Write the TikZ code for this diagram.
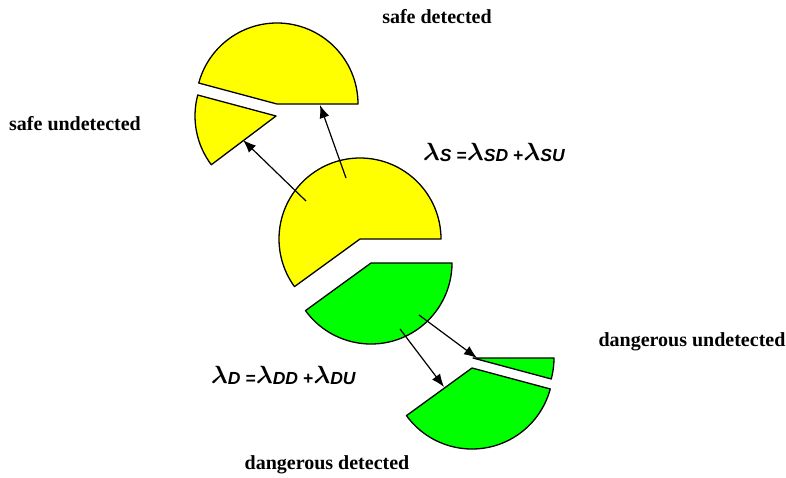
\documentclass[tikz,border=0pt]{standalone}
\usepackage{fontspec}
\setmainfont{Liberation Serif}
\newfontfamily\subfont{Liberation Sans}
\usetikzlibrary{arrows.meta}
\definecolor{pieyellow}{RGB}{255,255,0}
\definecolor{piegreen}{RGB}{0,255,0}
\newcommand{\lamsub}[1]{{\fontsize{34}{34}\selectfont\boldmath$\lambda$}\kern0pt\raisebox{-1.5pt}{\fontsize{17.5}{17.5}\selectfont\subfont\bfseries\itshape #1}\kern0.5pt}
\tikzset{
  ysec/.style={fill=pieyellow, draw=black, line width=1.3pt, line join=round},
  gsec/.style={fill=piegreen, draw=black, line width=1.3pt, line join=round},
  arr/.style={draw=black, line width=1.2pt, -{Latex[length=13pt,width=10pt]}},
  lbl/.style={font=\fontsize{20}{20}\selectfont\bfseries, inner sep=0pt},
  frm/.style={inner sep=0pt, anchor=base west}
}
\begin{document}
\begin{tikzpicture}[x=1pt,y=1pt]
\useasboundingbox (0,0) rectangle (786,-477);
% sectors
\coordinate (cY) at (360,-239);
\coordinate (cG) at (371,-263);
\coordinate (cSD) at (277,-104);
\coordinate (cSU) at (276,-116);
\coordinate (cDD) at (472,-368);
\coordinate (cDU) at (473,-358);
\draw[ysec] (cY) -- ++(0:81) arc[start angle=0, end angle=216, radius=81] -- cycle;
\draw[gsec] (cG) -- ++(216:81) arc[start angle=216, end angle=360, radius=81] -- cycle;
\draw[ysec] (cSD) -- ++(0:81) arc[start angle=0, end angle=165, radius=81] -- cycle;
\draw[ysec] (cSU) -- ++(165:81) arc[start angle=165, end angle=217, radius=81] -- cycle;
\draw[gsec] (cDD) -- ++(216:81) arc[start angle=216, end angle=345, radius=81] -- cycle;
\draw[gsec] (cDU) -- ++(345:81) arc[start angle=345, end angle=360, radius=81] -- cycle;
% arrows
\coordinate (a1s) at (346,-178);
\coordinate (a1e) at (320,-105);
\coordinate (a2s) at (306,-201);
\coordinate (a2e) at (243,-140);
\coordinate (a3s) at (400,-329);
\coordinate (a3e) at (444,-387);
\coordinate (a4s) at (419,-315);
\coordinate (a4e) at (477,-358);
\draw[arr] (a1s) -- (a1e);
\draw[arr] (a2s) -- (a2e);
\draw[arr] (a3s) -- (a3e);
\draw[arr] (a4s) -- (a4e);
% labels
\node[lbl] (sd) at (437,-17) {safe detected};
\node[lbl] (su) at (75,-124) {safe undetected};
\node[lbl] (du) at (692,-342) {dangerous undetected};
\node[lbl] (dd) at (327,-465) {dangerous detected};
\node[frm] (fs) at (423,-160) {\lamsub{S =}\lamsub{SD +}\lamsub{SU}};
\node[frm] (fd) at (211,-383) {\lamsub{D =}\lamsub{DD +}\lamsub{DU}};
\end{tikzpicture}
\end{document}
